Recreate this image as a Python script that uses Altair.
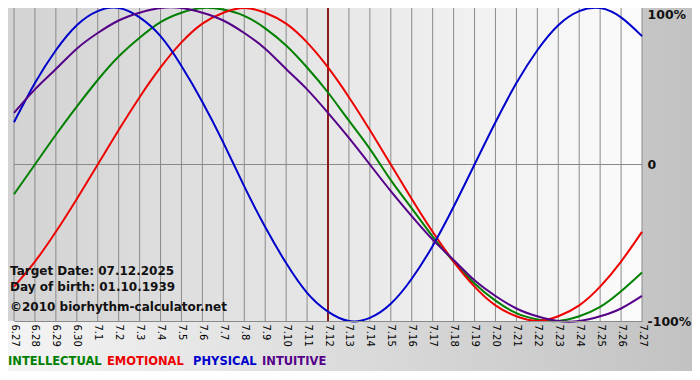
import altair as alt
import pandas as pd

dates = ["6.27", "6.28", "6.29", "6.30", "7.1", "7.2", "7.3", "7.4", "7.5", "7.6",
         "7.7", "7.8", "7.9", "7.10", "7.11", "7.12", "7.13", "7.14", "7.15", "7.16",
         "7.17", "7.18", "7.19", "7.20", "7.21", "7.22", "7.23", "7.24", "7.25", "7.26",
         "7.27"]

intellectual = [-0.19, 0.00, 0.19, 0.37, 0.54, 0.69, 0.81, 0.91, 0.97, 1.00,
                0.99, 0.95, 0.87, 0.76, 0.62, 0.46, 0.28, 0.10, -0.10, -0.28,
                -0.46, -0.62, -0.76, -0.87, -0.95, -0.99, -1.00, -0.97, -0.91, -0.81,
                -0.69]
emotional = [-0.78, -0.62, -0.43, -0.22, 0.00, 0.22, 0.43, 0.62, 0.78, 0.90,
             0.97, 1.00, 0.97, 0.90, 0.78, 0.62, 0.43, 0.22, 0.00, -0.22,
             -0.43, -0.62, -0.78, -0.90, -0.97, -1.00, -0.97, -0.90, -0.78, -0.62,
             -0.43]
physical = [0.27, 0.52, 0.73, 0.89, 0.98, 1.00, 0.94, 0.82, 0.63, 0.40,
            0.14, -0.14, -0.40, -0.63, -0.82, -0.94, -1.00, -0.98, -0.89, -0.73,
            -0.52, -0.27, 0.00, 0.27, 0.52, 0.73, 0.89, 0.98, 1.00, 0.94,
            0.82]
intuitive = [0.33, 0.48, 0.61, 0.74, 0.84, 0.92, 0.97, 1.00, 1.00, 0.97,
             0.92, 0.84, 0.74, 0.61, 0.48, 0.33, 0.17, 0.00, -0.17, -0.33,
             -0.48, -0.61, -0.74, -0.84, -0.92, -0.97, -1.00, -1.00, -0.97, -0.92,
             -0.84]

series_names = ["INTELLECTUAL", "EMOTIONAL", "PHYSICAL", "INTUITIVE"]
series_colors = ["#008000", "#ee0000", "#0000cc", "#550088"]
target_date = "7.12"
y_ticks = [-1, 0, 1]

info_lines = ["Target Date: 07.12.2025", "Day of birth: 01.10.1939",
              "\u00a92010 biorhythm-calculator.net"]

rows = []
for name, vals in zip(series_names, [intellectual, emotional, physical, intuitive]):
    for i, (d, v) in enumerate(zip(dates, vals)):
        rows.append({"series": name, "date": d, "idx": i, "value": v})
df = pd.DataFrame(rows)

PAD_L = 6
W = 628
H = 313
PAD_R = 50
PAD_B = 50
FONT = "DejaVu Sans"

one = pd.DataFrame({"k": [0]})

x_enc = alt.X(
    "date:O",
    scale=alt.Scale(type="point", domain=dates, padding=0),
    axis=alt.Axis(title=None, labelAngle=90, labelAlign="left", labelBaseline="middle",
                  labelFont=FONT, labelFontSize=10, labelColor="#000000",
                  labelPadding=3, ticks=False, grid=False, domain=True,
                  domainColor="#8a8a8a", zindex=1, labelOverlap=False),
)
y_enc = alt.Y(
    "value:Q",
    scale=alt.Scale(domain=[-1, 1], nice=False, zero=False),
    axis=alt.Axis(orient="right", title=None, values=y_ticks, ticks=False, grid=False,
                  domain=False, labelFont=FONT, labelFontSize=12.5, labelFontWeight="bold",
                  labelColor="#111111", labelPadding=5, zindex=1,
                  labelBaseline={"condition": {"test": "datum.value == 1", "value": "top"},
                                 "value": "middle"},
                  labelExpr="datum.value == 0 ? '0' : (datum.value > 0 ? '100%' : '-100%')"),
)

outer_bg = alt.Chart(one).mark_rect(
    fill=alt.Gradient(gradient="linear",
                      stops=[alt.GradientStop(color="#f4f4f4", offset=0),
                             alt.GradientStop(color="#c2c2c2", offset=1)],
                      x1=0, x2=1, y1=0, y2=0)
).encode(x=alt.value(-PAD_L), x2=alt.value(W + PAD_R), y=alt.value(0),
         y2=alt.value(H + PAD_B))

plot_bg = alt.Chart(one).mark_rect(
    fill=alt.Gradient(gradient="linear",
                      stops=[alt.GradientStop(color="#d3d3d3", offset=0),
                             alt.GradientStop(color="#fbfbfb", offset=1)],
                      x1=0, x2=1, y1=0, y2=0)
).encode(x=alt.value(-PAD_L), x2=alt.value(W), y=alt.value(0), y2=alt.value(H))

grid = alt.Chart(pd.DataFrame({"date": dates})).mark_rule(
    color="#8a8a8a", strokeWidth=1
).encode(x=x_enc)

zero = alt.Chart(pd.DataFrame({"value": [0]})).mark_rule(
    color="#8a8a8a", strokeWidth=1
).encode(y=y_enc)

target = alt.Chart(pd.DataFrame({"date": [target_date]})).mark_rule(
    color="#8b1a1a", strokeWidth=2
).encode(x=x_enc)

lines = alt.Chart(df).mark_line(strokeWidth=2, interpolate="natural").encode(
    x=x_enc,
    y=y_enc,
    color=alt.Color("series:N", scale=alt.Scale(domain=series_names, range=series_colors),
                    legend=None),
    order=alt.Order("idx:Q"),
)

info_layers = []
for txt, yy in zip(info_lines, [263, 279, 299]):
    info_layers.append(
        alt.Chart(one).mark_text(align="left", baseline="middle", font=FONT,
                                 fontWeight="bold", fontSize=12, color="#111111",
                                 text=txt)
        .encode(x=alt.value(-4), y=alt.value(yy))
    )

legend_layers = []
for name, col, xx in zip(series_names, series_colors, [-6, 93, 179, 248]):
    legend_layers.append(
        alt.Chart(one).mark_text(align="left", baseline="middle", font=FONT,
                                 fontWeight="bold", fontSize=11.5, color=col, text=name)
        .encode(x=alt.value(xx), y=alt.value(354))
    )

chart = alt.layer(
    outer_bg, plot_bg, grid, zero, target, lines, *info_layers, *legend_layers
).properties(
    width=W, height=H,
    autosize=alt.AutoSizeParams(type="none"),
    padding={"left": PAD_L, "top": 0, "right": PAD_R, "bottom": PAD_B},
    background="#c4c4c4",
).configure_view(stroke=None)

chart.save("out.html", embed_options={"renderer": "svg", "actions": False})
